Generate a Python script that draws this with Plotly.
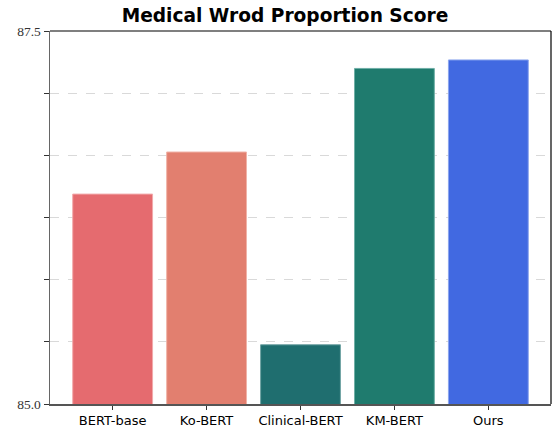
import plotly.graph_objects as go

categories = ["BERT-base", "Ko-BERT", "Clinical-BERT", "KM-BERT", "Ours"]
scores = [86.407, 86.689, 85.397, 87.249, 87.306]
colors = ["#E56B6F", "#E27F6F", "#1F6E6F", "#1F7B6E", "#4169E1"]
edge_colors = ["#F2A9AB", "#F0B3A8", "#6FA3A3", "#6FAFA6", "#8AA4EE"]
y_tick_vals = [85.0, 85.0 + 2.5/6, 85.0 + 5/6, 85.0 + 7.5/6, 85.0 + 10/6, 85.0 + 12.5/6, 87.5]
y_tick_text = ["85.0", "", "", "", "", "", "87.5"]

fig = go.Figure()
fig.add_trace(go.Bar(
    x=list(range(len(categories))),
    y=scores,
    width=0.85,
    marker=dict(color=colors, line=dict(color=edge_colors, width=1)),
    hoverinfo="skip",
))

fig.update_layout(
    width=552, height=429,
    margin=dict(l=50, r=1, t=31, b=25, autoexpand=False),
    paper_bgcolor="white", plot_bgcolor="white",
    showlegend=False,
    title=dict(text="<b>Medical Wrod Proportion Score</b>",
               font=dict(family="DejaVu Sans", size=18.6, color="black"),
               x=285/552, xanchor="center", xref="container",
               y=1 - 15/429, yanchor="middle", yref="container"),
    xaxis=dict(
        range=[-0.667, 4.667],
        tickvals=list(range(len(categories))),
        ticktext=categories,
        tickfont=dict(family="DejaVu Sans", size=13, color="black"),
        ticks="outside", ticklen=4, tickcolor="#333", tickwidth=1,
        showline=True, linecolor="#555", linewidth=1.5,
        showgrid=False, zeroline=False, automargin=False,
    ),
    yaxis=dict(
        range=[85.0, 87.5],
        tickvals=y_tick_vals,
        ticktext=y_tick_text,
        tickfont=dict(family="Liberation Serif", size=13.5, color="#333"),
        ticks="outside", ticklen=5, tickcolor="#333", tickwidth=1,
        showline=True, linecolor="#666", linewidth=1.5,
        showgrid=True, gridcolor="#d9d9d9", griddash="dash", gridwidth=1,
        zeroline=False, automargin=False,
    ),
    shapes=[
        dict(type="line", xref="paper", yref="paper", x0=0, x1=1, y0=1, y1=1,
             line=dict(color="black", width=1.2)),
        dict(type="line", xref="paper", yref="paper", x0=1, x1=1, y0=0, y1=1,
             line=dict(color="black", width=1.2)),
    ],
)

fig.write_html("out.html", config={"displayModeBar": False, "staticPlot": True},
               post_script="document.body.style.margin='0';document.body.style.overflow='hidden';")
